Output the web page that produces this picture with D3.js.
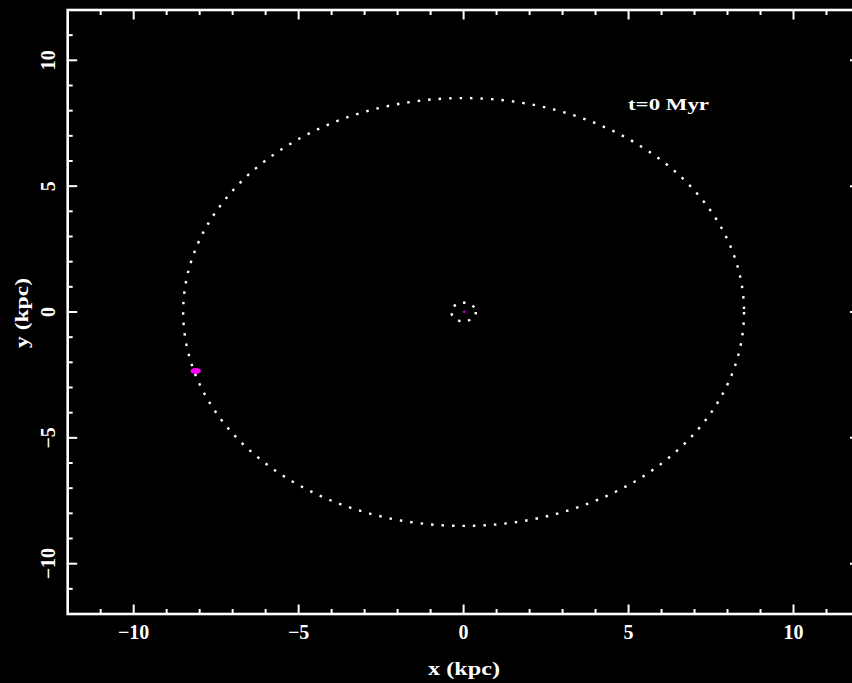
<!DOCTYPE html>
<html>
<head>
<meta charset="utf-8">
<script src="https://cdn.jsdelivr.net/npm/d3@7"></script>
<style>
  html, body { margin: 0; padding: 0; background: #000; }
  svg { display: block; }
  text { font-family: "Liberation Serif", "DejaVu Serif", serif; font-weight: bold; fill: #fff; }
</style>
</head>
<body>
<svg id="chart" width="852" height="683"></svg>
<script>
// Axis ranges and tick labels (kpc)
const xDomain = [-12, 12];
const yDomain = [-12, 12];
const xMajorTicks = [-10, -5, 0, 5, 10];
const yMajorTicks = [-10, -5, 0, 5, 10];
const xMinorTicks = d3.range(-12, 13, 1);
const yMinorTicks = d3.range(-12, 13, 1);

// Orbits drawn as dotted rings (radius in kpc)
const orbitRadii = [8.5, 0.37];
// Satellite position and galactic centre marker (kpc)
const satellitePos = [{ x: -8.12, y: -2.34 }];
const centrePos = [{ x: 0.02, y: 0.01 }];
const timeLabel = ["t=0 Myr"];

const svg = d3.select("#chart");
const x = d3.scaleLinear().domain(xDomain).range([67.7, 859.5]);
const y = d3.scaleLinear().domain(yDomain).range([614, 10]);

const fmt = v => (v < 0 ? "\u2212" + Math.abs(v) : String(v));

// Frame
svg.append("rect")
  .attr("x", x(xDomain[0])).attr("y", y(yDomain[1]))
  .attr("width", x(xDomain[1]) - x(xDomain[0]))
  .attr("height", y(yDomain[0]) - y(yDomain[1]))
  .attr("fill", "none").attr("stroke", "#fff").attr("stroke-width", 2.6);

// Tick marks on all four sides, pointing inward
const tickG = svg.append("g").attr("stroke", "#fff").attr("stroke-width", 2);
const isMajor = v => v % 5 === 0;
const tlen = v => (isMajor(v) ? 9.5 : 5);
const xt = xMinorTicks.filter(v => v > xDomain[0] && v < xDomain[1]);
const yt = yMinorTicks.filter(v => v > yDomain[0] && v < yDomain[1]);
tickG.selectAll(".xb").data(xt).join("line")
  .attr("x1", d => x(d)).attr("x2", d => x(d))
  .attr("y1", y(yDomain[0])).attr("y2", d => y(yDomain[0]) - tlen(d));
tickG.selectAll(".xt").data(xt).join("line")
  .attr("x1", d => x(d)).attr("x2", d => x(d))
  .attr("y1", y(yDomain[1])).attr("y2", d => y(yDomain[1]) + tlen(d));
tickG.selectAll(".yl").data(yt).join("line")
  .attr("y1", d => y(d)).attr("y2", d => y(d))
  .attr("x1", x(xDomain[0])).attr("x2", d => x(xDomain[0]) + tlen(d));
tickG.selectAll(".yr").data(yt).join("line")
  .attr("y1", d => y(d)).attr("y2", d => y(d))
  .attr("x1", x(xDomain[1])).attr("x2", d => x(xDomain[1]) - tlen(d));

// Tick labels
svg.append("g").selectAll("text").data(xMajorTicks).join("text")
  .attr("x", d => x(d)).attr("y", 639)
  .attr("text-anchor", "middle")
  .attr("font-size", 20)
  .text(fmt);
svg.append("g").selectAll("text").data(yMajorTicks).join("text")
  .attr("transform", d => `translate(54.5,${y(d)}) rotate(-90)`)
  .attr("text-anchor", "middle")
  .attr("font-size", 20)
  .text(fmt);

// Axis titles
svg.append("text")
  .attr("x", 464).attr("y", 675)
  .attr("text-anchor", "middle").attr("font-size", 19)
  .attr("textLength", 72).attr("lengthAdjust", "spacingAndGlyphs")
  .text("x (kpc)");
svg.append("text")
  .attr("transform", `translate(28,313) rotate(-90)`)
  .attr("text-anchor", "middle").attr("font-size", 19)
  .attr("textLength", 70).attr("lengthAdjust", "spacingAndGlyphs")
  .text("y (kpc)");

// Dotted orbit rings
svg.append("g").selectAll("ellipse").data(orbitRadii).join("ellipse")
  .attr("cx", x(0)).attr("cy", y(0))
  .attr("rx", d => x(d) - x(0))
  .attr("ry", d => y(0) - y(d))
  .attr("fill", "none").attr("stroke", "#fff")
  .attr("stroke-width", 2.4)
  .attr("stroke-dasharray", d => (d > 1 ? "2.5 8" : "2.5 7.5"));

// Centre marker
svg.append("g").selectAll("rect").data(centrePos).join("rect")
  .attr("x", d => x(d.x) - 1).attr("y", d => y(d.y) - 1)
  .attr("width", 2).attr("height", 2)
  .attr("fill", "#ff00ff");

// Satellite
svg.append("g").selectAll("ellipse").data(satellitePos).join("ellipse")
  .attr("cx", d => x(d.x)).attr("cy", d => y(d.y))
  .attr("rx", 5.2).attr("ry", 3)
  .attr("fill", "#ff00ff");

// Time stamp
svg.append("text")
  .attr("x", 628).attr("y", 110)
  .attr("font-size", 16)
  .attr("textLength", 81).attr("lengthAdjust", "spacingAndGlyphs")
  .text(timeLabel[0]);
</script>
</body>
</html>
